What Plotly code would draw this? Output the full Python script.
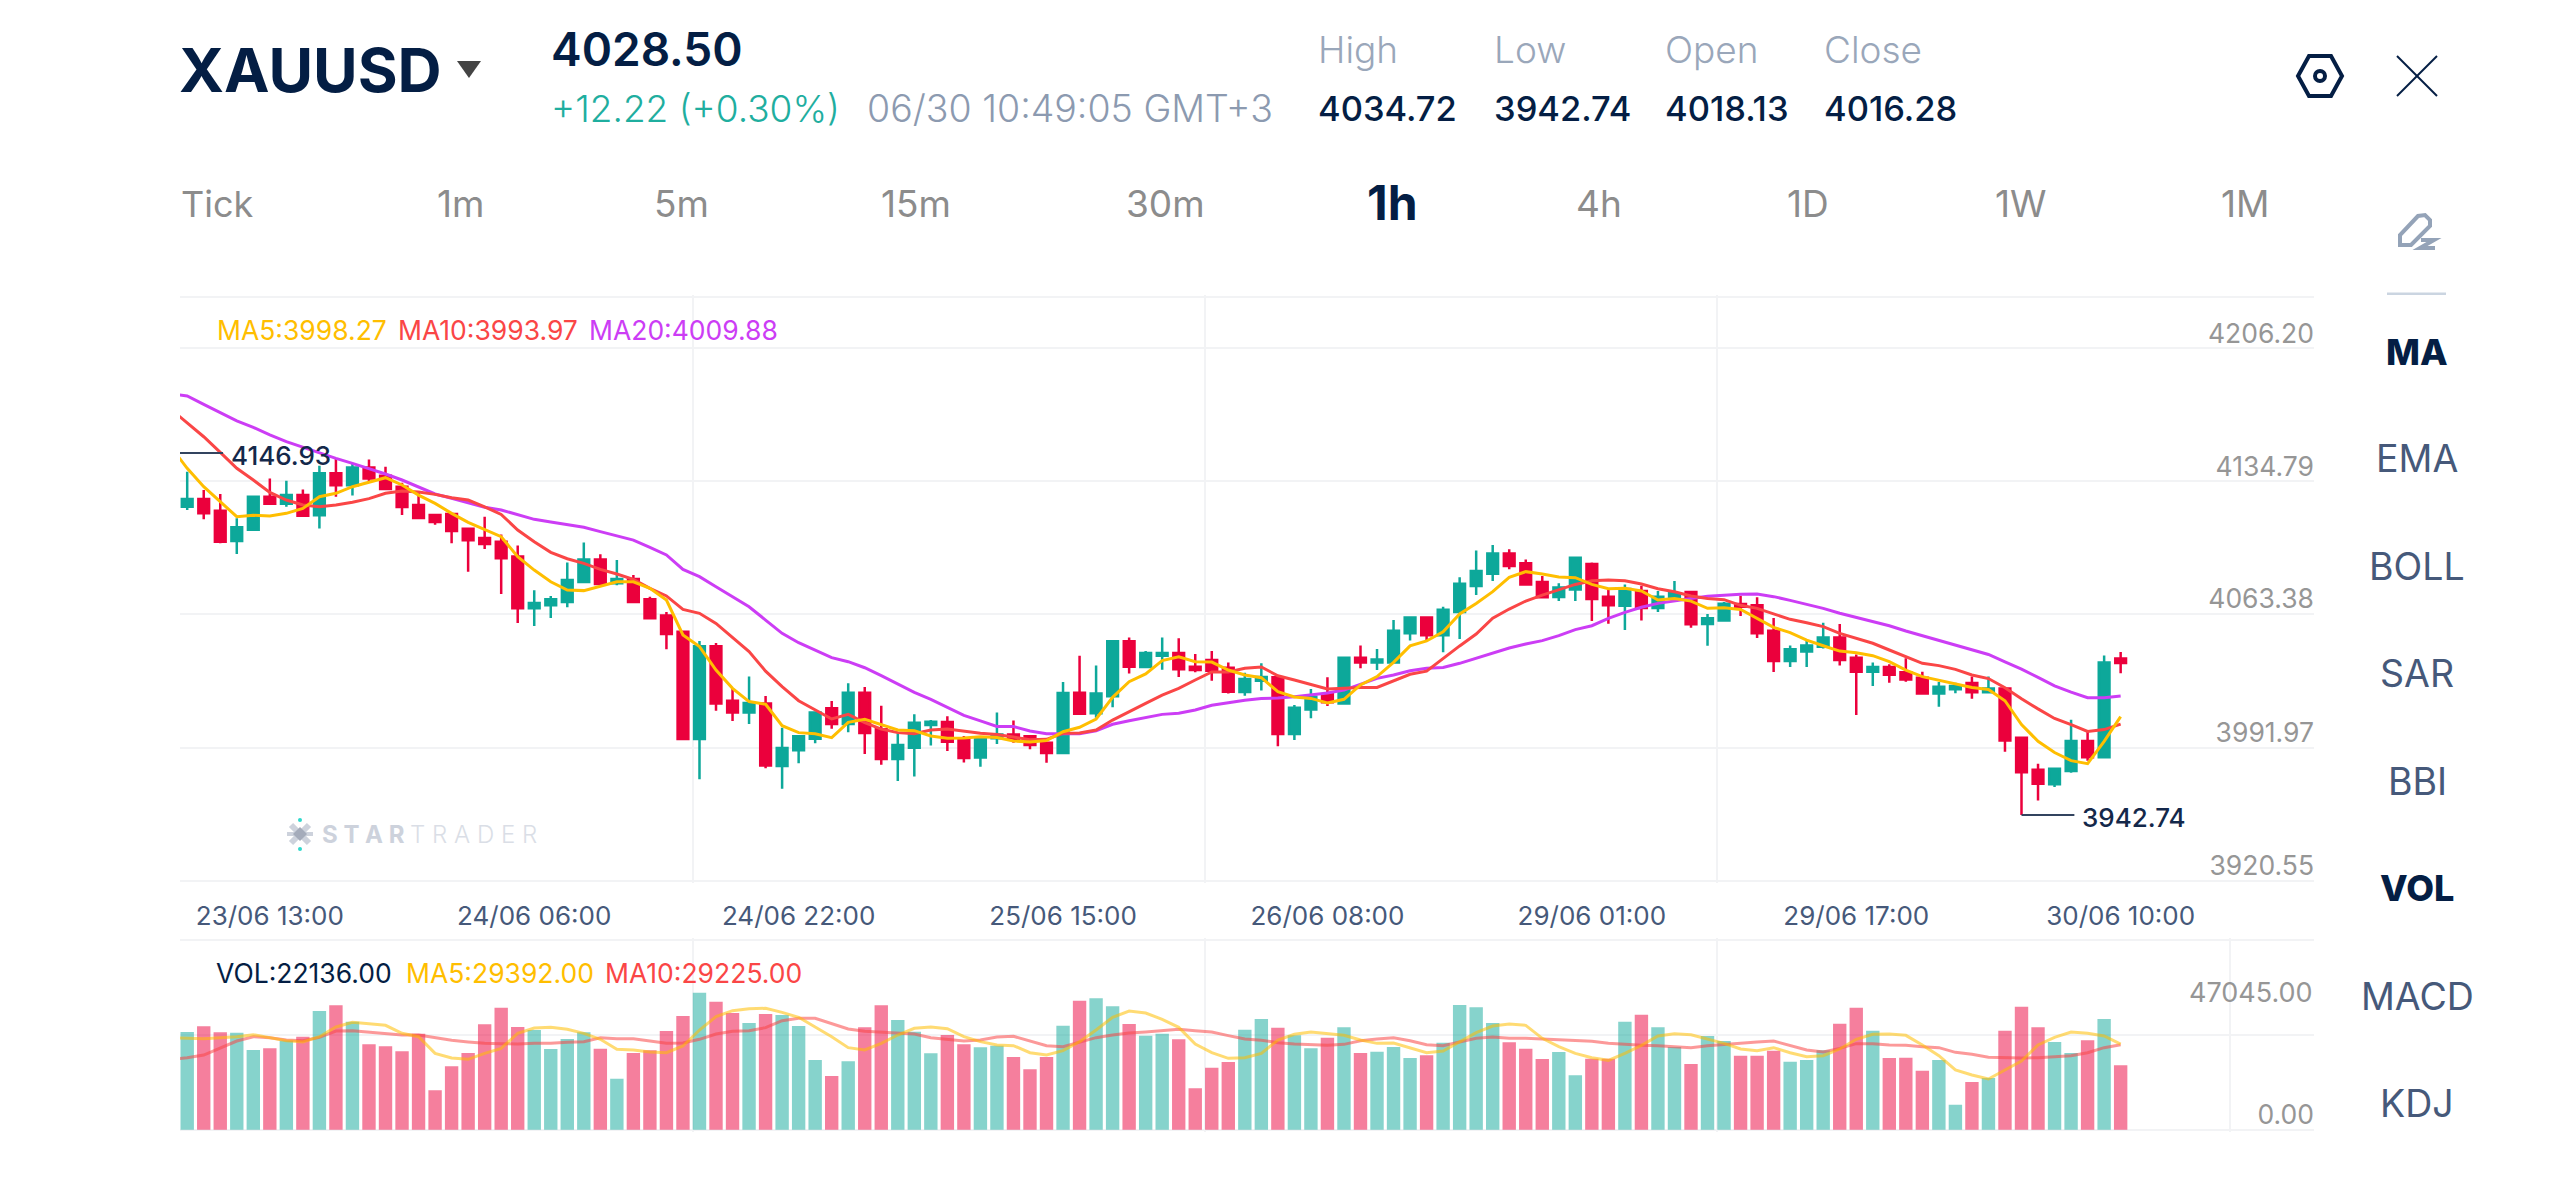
import plotly.graph_objects as go

# --- Hourly XAUUSD candles ---------------------------------------------------
OPEN = [4116.6,4121.0,4114.4,4097.3,4103.7,4122.3,4118.3,4123.2,4111.8,4135.5,4128.7,4138.8,4134.1,4127.9,4117.6,4112.0,4112.5,4104.2,4099.0,4096.9,
        4088.6,4059.3,4061.0,4062.9,4074.2,4086.9,4073.4,4075.9,4064.4,4055.2,4046.1,3985.6,4037.9,4007.2,4000.5,4005.7,3970.4,3979.2,3985.8,4002.9,
        3994.1,4011.7,3991.1,3974.3,3980.7,3993.5,3995.2,3986.0,3975.1,3986.0,3988.2,3987.1,3983.5,3977.7,4011.7,4000.1,4009.7,4040.7,4026.2,4032.6,
        4034.1,4026.4,4030.2,4025.8,4012.1,4018.5,4020.4,3988.4,4002.3,4010.8,4005.7,4031.5,4028.7,4028.8,4045.2,4054.2,4044.1,4057.2,4071.9,4078.8,
        4090.3,4084.7,4074.2,4065.7,4070.0,4084.3,4065.9,4060.8,4069.1,4059.5,4064.9,4068.5,4050.5,4052.5,4061.7,4061.0,4046.7,4029.6,4034.9,4037.7,
        4042.9,4031.5,4023.6,4026.2,4023.2,4020.2,4011.2,4013.6,4017.2,4012.0,4014.1,3986.3,3968.2,3960.1,3967.6,3984.5,3975.3,4031.0]
HIGH = [4136.4,4126.0,4123.8,4110.1,4122.3,4132.6,4131.3,4126.4,4139.8,4143.9,4141.1,4143.2,4139.2,4130.2,4125.1,4112.0,4112.5,4104.2,4111.0,4101.0,
        4094.8,4069.5,4066.3,4085.1,4096.5,4089.8,4086.6,4078.1,4065.9,4057.2,4046.7,4040.9,4039.8,4014.2,4020.8,4009.9,3992.0,3987.9,4001.0,4007.0,
        4017.0,4014.9,4004.4,3988.8,3999.5,3996.3,3998.4,3987.3,3986.9,4000.5,3996.1,3987.9,3984.1,4017.7,4032.6,4027.1,4041.1,4042.8,4035.2,4042.9,
        4042.4,4033.5,4035.2,4028.8,4023.0,4028.3,4020.8,4004.8,4013.8,4020.4,4031.7,4038.4,4036.4,4052.7,4054.6,4054.4,4060.2,4076.8,4092.0,4095.0,
        4092.6,4086.9,4077.5,4073.4,4087.9,4085.2,4069.6,4072.8,4072.1,4069.1,4074.7,4068.7,4056.1,4062.9,4066.4,4065.5,4053.9,4038.4,4040.9,4051.2,
        4050.5,4033.2,4028.7,4027.7,4031.1,4023.6,4017.7,4017.4,4020.8,4020.8,4014.5,3986.3,3971.7,3969.2,3996.4,3989.5,4032.7,4034.72]
LOW = [4114.8,4109.5,4096.0,4090.0,4102.9,4118.3,4116.6,4111.0,4104.4,4122.3,4122.9,4130.9,4126.6,4112.0,4110.3,4106.5,4096.0,4080.0,4092.8,4067.4,
       4051.0,4049.3,4053.9,4059.9,4074.2,4073.0,4072.3,4062.9,4053.7,4036.2,3985.6,3962.9,4001.6,3995.8,3994.1,3969.1,3957.6,3971.9,3983.2,3991.4,
       3989.4,3977.1,3971.1,3961.9,3964.5,3982.0,3978.8,3972.4,3970.0,3982.8,3983.5,3979.8,3972.2,3977.5,3999.5,3997.6,4003.5,4022.6,4025.5,4024.7,
       4020.6,4023.2,4018.5,4011.2,4010.0,4013.0,3981.5,3985.0,3997.3,4004.2,4005.5,4025.5,4024.5,4028.8,4041.1,4041.4,4034.5,4042.0,4066.8,4074.7,
       4081.3,4072.7,4065.5,4063.4,4063.4,4052.2,4050.6,4047.1,4052.5,4057.2,4064.9,4048.4,4038.2,4052.5,4055.0,4042.6,4023.4,4026.2,4026.2,4036.6,
       4027.0,3999.1,4015.5,4017.4,4017.9,4010.6,4003.8,4011.4,4008.3,4012.0,3978.4,3942.74,3950.9,3958.6,3966.5,3973.4,3975.3,4022.7]
CLOSE = [4121.0,4112.9,4096.9,4105.0,4122.3,4118.3,4123.2,4111.6,4135.5,4128.7,4138.8,4132.6,4126.6,4116.5,4110.3,4108.0,4102.9,4097.7,4095.6,4087.5,
         4059.3,4062.3,4064.4,4075.3,4086.9,4073.0,4075.9,4062.9,4053.7,4044.8,3985.6,4037.9,4005.7,4000.5,4005.9,3970.6,3980.5,3987.1,4000.5,3994.1,
         4011.7,3989.0,3974.3,3982.2,3994.8,3995.4,3984.1,3974.9,3986.0,3988.2,3985.6,3982.2,3977.7,4011.5,3999.9,4011.2,4040.7,4026.4,4034.1,4034.1,
         4024.9,4024.5,4024.1,4012.3,4019.4,4020.6,3988.4,4003.3,4009.5,4006.3,4031.5,4028.8,4030.5,4046.7,4054.2,4044.1,4058.5,4073.2,4080.4,4090.3,
         4083.2,4072.8,4065.5,4071.1,4087.9,4064.6,4061.0,4070.2,4059.5,4065.9,4067.8,4050.3,4053.7,4061.9,4060.2,4045.2,4029.6,4036.2,4038.4,4042.9,
         4030.2,4023.6,4026.2,4021.9,4019.1,4011.2,4015.1,4015.5,4012.0,4014.1,3984.7,3966.9,3960.3,3968.8,3984.5,3975.3,4028.7,4028.5]

# --- Price moving averages, the first entry belongs to the hour before the window
MA5 = [4150.5,4138.3,4127.9,4119.5,4111.0,4111.8,4111.4,4112.9,4115.7,4122.3,4124.2,4127.9,4130.4,4133.0,4128.9,4123.2,4118.5,4112.9,4107.8,4103.9,4099.7,
       4088.4,4080.9,4074.3,4069.6,4069.3,4071.9,4074.3,4074.3,4070.6,4064.0,4044.3,4037.7,4024.5,4014.2,4006.7,4005.2,
       3993.1,3989.2,3988.6,3986.4,3995.0,3996.7,3993.9,3990.7,3990.3,3987.3,3986.0,3986.2,3986.9,3986.4,3984.5,3983.9,3984.7,3989.7,3992.2,3996.9,
       4009.1,4017.9,4022.3,4029.8,4032.0,4029.2,4029.0,4024.5,4021.7,4020.2,4012.3,4009.3,4008.5,4005.9,4008.0,4016.1,
       4020.8,4028.8,4038.1,4040.9,4046.1,4056.1,4062.1,4068.7,4076.8,4080.0,4078.7,4077.0,4076.6,4072.8,4070.4,4070.6,4069.1,4064.0,4064.9,4063.4,4059.3,
       4059.7,4058.7,4053.7,4048.6,4045.6,4041.4,4038.2,4035.2,4034.3,4032.6,4029.2,4024.5,4020.8,4018.9,4016.6,4014.7,
       4013.5,4007.2,3993.7,3984.3,3978.0,3973.4,3971.7,3984.3,3998.27]
MA10 = [4171.7,4163.7,4156.1,4147.3,4138.3,4131.7,4124.7,4120.4,4117.6,4116.6,4117.6,4119.1,4121.2,4124.2,4125.5,4124.9,4123.6,4121.7,4120.4,4116.6,4112.3,
        4103.5,4096.9,4090.9,4087.3,4084.7,4081.3,4078.7,4075.7,4070.6,4066.3,4058.7,4056.5,4050.8,4042.9,4034.9,4023.9,
        4015.1,4007.2,4002.0,3996.9,3999.5,3994.8,3991.2,3989.2,3988.6,3990.7,3991.2,3990.1,3988.8,3988.2,3986.5,3985.2,3985.4,3988.8,3989.0,3990.7,
        3996.3,4001.2,4005.7,4010.4,4014.2,4018.9,4023.4,4023.4,4025.5,4026.2,4021.3,4018.9,4016.4,4013.8,4014.2,4014.7,
        4014.7,4018.5,4022.1,4023.9,4031.1,4038.1,4044.8,4053.7,4058.9,4063.4,4066.8,4069.6,4072.8,4074.9,4075.3,4074.9,4073.0,4070.4,4068.7,4066.3,4064.9,
        4064.2,4061.0,4059.3,4056.1,4053.1,4051.2,4049.0,4045.2,4042.4,4039.6,4035.8,4032.0,4028.3,4027.0,4024.9,4021.7,
        4019.7,4014.5,4008.3,4002.6,3997.2,3993.7,3989.9,3990.9,3993.97]
MA20 = [4180.2,4179.1,4174.4,4169.7,4165.0,4161.4,4157.1,4153.3,4150.1,4146.7,4143.9,4141.1,4138.3,4135.1,4131.7,4127.9,4123.8,4121.4,4118.9,4116.3,4114.8,
        4112.0,4109.5,4108.0,4106.7,4105.0,4102.6,4100.3,4097.8,4093.7,4089.4,4081.3,4077.2,4071.5,4065.9,4060.2,4052.7,
        4045.2,4039.9,4035.8,4031.5,4029.2,4025.8,4021.3,4016.6,4011.9,4008.0,4003.3,3998.9,3995.8,3992.7,3992.6,3990.1,3988.6,3988.6,3988.6,3990.3,
        3993.9,3995.9,3997.6,3999.5,4000.1,4002.0,4004.6,4006.1,4007.4,4008.4,4008.7,4009.5,4010.6,4011.5,4013.2,4016.4,
        4019.8,4021.7,4024.1,4025.5,4026.0,4028.3,4031.1,4033.9,4036.9,4039.2,4041.1,4043.9,4047.3,4049.5,4053.7,4057.0,4059.9,4062.1,4063.6,4064.9,4066.1,
        4066.8,4067.2,4067.4,4065.9,4063.8,4061.7,4059.3,4056.5,4054.2,4051.8,4049.5,4046.5,4043.9,4041.4,4038.6,4036.2,
        4033.3,4029.1,4025.0,4020.4,4015.6,4012.0,4008.9,4008.9,4009.88]

# --- Traded volume and its moving averages ------------------------------------
VOLUME = [33580,35520,33460,33350,27390,27960,30600,31970,40800,42740,37130,29340,28650,26930,33000,13530,21780,26360,36210,41940,
          35300,34260,27730,31170,33460,27850,17540,26360,27280,33920,39080,47045,44000,40110,36670,39760,39420,35640,23950,18450,
          23500,35180,42740,37700,33690,26250,32550,29340,28310,28880,24980,20750,24980,35750,44350,45150,42400,36330,32320,33000,
          31060,14220,21320,23270,34380,38050,35070,32430,27960,31630,35180,26360,26820,28420,24640,25560,29910,42860,42060,36670,
          30030,27850,24300,26700,18680,24410,24410,37130,39540,35180,28420,22580,32200,30480,25440,25440,27160,23380,23950,27280,
          36440,41940,34040,24640,24760,20290,23950,8600,16390,17770,34040,42280,35180,30140,26360,30710,38050,22136]
VOL_MA5 = [31630,31520,31290,31630,31970,32660,31740,30600,30140,31970,35300,36900,36440,35870,33120,31970,26250,24640,24180,26250,27960,
           33120,34950,35180,34490,33120,31060,27620,27390,26700,26470,28770,34260,38850,40910,41600,41710,40340,38620,35410,31970,28190,27390,
           29680,32550,34840,35300,34720,31970,30260,29110,28880,26470,25670,27160,30260,34260,38620,40800,40110,37930,35180,29450,26470,24530,24760,26250,
           30830,32780,33580,33120,32430,30830,29680,29800,28190,26470,27050,30260,33350,35640,36330,35870,31400,28540,
           26250,24760,23840,26250,28990,32200,33000,32660,31060,29680,27730,27160,28190,26470,25100,25440,27730,31060,32780,32890,32430,29110,25440,20520,18800,17420,
           20520,23610,29110,31740,33580,33120,32200,29392]
VOL_MA10 = [24180,24760,25670,27960,30480,31970,31630,30830,30600,31740,33920,34040,33460,33000,32550,32550,31630,30710,30140,29680,29570,
            29450,29680,29680,30030,30260,31630,31290,31290,30370,29680,29800,31060,32890,33810,34040,35070,37470,38270,38270,36560,34610,33810,
            33580,33230,32890,31630,30940,30480,30830,31860,32090,30480,28880,28540,30030,31630,32550,33230,33580,33920,34490,34040,33580,32320,31170,30710,
            29910,29450,29110,28990,29340,30600,31170,31630,30600,29220,28880,30260,31400,31860,31400,31400,31170,30710,
            30600,30370,29680,29220,28990,28880,28540,28190,28880,29340,29910,30140,30480,28990,27390,26700,27960,29570,29570,29110,28990,28540,28190,26590,25900,24870,
            24640,24640,24760,25210,25440,26470,28190,29225]

# --- Axis labels --------------------------------------------------------------
DATE_TICK_INDEX = [5, 21, 37, 53, 69, 85, 101, 117]
DATE_TICK_TEXT = ["23/06 13:00", "24/06 06:00", "24/06 22:00", "25/06 15:00",
                  "26/06 08:00", "29/06 01:00", "29/06 17:00", "30/06 10:00"]
VERTICAL_GRID_INDEX = [30.6, 61.6, 92.6, 123.6]
PRICE_GRID = [4234.92, 4205.98, 4130.96, 4056.11, 3980.70, 3905.51]
PRICE_GRID_TEXT = ["", "4206.20", "4134.79", "4063.38", "3991.97", "3920.55"]
PRICE_RANGE = [3904.38, 4236.05]
VOLUME_GRID = [0, 32550, 65200]
VOLUME_GRID_TEXT = ["0.00", "", ""]
VOLUME_RANGE = [-687, 65887]
VOLUME_TOP_LABEL = 47045.00
PERIOD_HIGH = 4146.93
PERIOD_LOW = 3942.74

assert all(len(s) == 118 for s in (OPEN, HIGH, LOW, CLOSE, VOLUME)), [len(s) for s in (OPEN, HIGH, LOW, CLOSE, VOLUME)]
assert all(len(s) == 119 for s in (MA5, MA10, MA20, VOL_MA5, VOL_MA10)), [len(s) for s in (MA5, MA10, MA20, VOL_MA5, VOL_MA10)]

W, H = 2560, 1177
FONT = "Inter"
NAVY = "#041E44"
TEAL = "#0DA89A"
RED = "#EB003C"
YELLOW = "#FFBE00"
CORAL = "#FA4646"
VIOLET = "#CC3DF5"
GRID = "#F2F3F5"
SLATE = "#46597A"
GREY = "#8C8C8C"
TICK_GREY = "#969696"


def px(x):
    return x / W


def py(y):
    return 1 - y / H


def label(x, y, text, size, color, anchor="left", weight=400):
    return dict(text=text, x=px(x), y=py(y), xref="paper", yref="paper", xanchor=anchor, yanchor="middle",
                showarrow=False, borderpad=0, font=dict(family=FONT, size=size, color=color, weight=weight))


def poly(points, close=True):
    d = "M" + " L".join(f"{px(a):.5f},{py(b):.5f}" for a, b in points)
    return d + (" Z" if close else "")


idx = list(range(len(OPEN)))
ma_idx = list(range(-1, len(OPEN)))
x_range = [-0.436, 128.7]

fig = go.Figure()
fig.add_trace(go.Candlestick(
    x=idx, open=OPEN, high=HIGH, low=LOW, close=CLOSE, xaxis="x", yaxis="y", whiskerwidth=0,
    increasing=dict(line=dict(color=TEAL, width=2.5), fillcolor=TEAL),
    decreasing=dict(line=dict(color=RED, width=2.5), fillcolor=RED), hoverinfo="skip"))
for series, colour in ((MA20, VIOLET), (MA10, CORAL), (MA5, YELLOW)):
    fig.add_trace(go.Scatter(x=ma_idx, y=series, mode="lines", line=dict(color=colour, width=3),
                             xaxis="x", yaxis="y", hoverinfo="skip"))
fig.add_trace(go.Scatter(x=[-0.44, 2.17], y=[PERIOD_HIGH, PERIOD_HIGH], mode="lines",
                         line=dict(color="#33445F", width=2), xaxis="x", yaxis="y", hoverinfo="skip"))
fig.add_trace(go.Scatter(x=[111, 114.2], y=[PERIOD_LOW, PERIOD_LOW], mode="lines",
                         line=dict(color="#33445F", width=2), xaxis="x", yaxis="y", hoverinfo="skip"))

bar_colours = ["rgba(13,168,154,0.5)" if c >= o else "rgba(235,0,60,0.5)" for o, c in zip(OPEN, CLOSE)]
fig.add_trace(go.Bar(x=idx, y=VOLUME, width=0.81, marker=dict(color=bar_colours, line=dict(width=0)),
                     xaxis="x2", yaxis="y2", hoverinfo="skip"))
fig.add_trace(go.Scatter(x=ma_idx, y=VOL_MA10, mode="lines", line=dict(color="rgba(250,70,70,0.55)", width=3),
                         xaxis="x2", yaxis="y2", hoverinfo="skip"))
fig.add_trace(go.Scatter(x=ma_idx, y=VOL_MA5, mode="lines", line=dict(color="rgba(255,190,0,0.55)", width=3),
                         xaxis="x2", yaxis="y2", hoverinfo="skip"))

vgrid = dict(tickmode="array", tickvals=VERTICAL_GRID_INDEX, showgrid=True, gridcolor=GRID, gridwidth=2, ticks="")

annotations = [
    # Header
    label(178, 70, "XAUUSD", 61, NAVY, weight=700),
    label(550, 49, "4028.50", 46, NAVY, weight=600),
    label(550, 109, "+12.22 (+0.30%)", 37, "#1FAE9F", weight=300),
    label(866, 109, "06/30 10:49:05 GMT+3", 37.5, "#8C9AB0", weight=300),
    label(1317, 50, "High", 37, "#9AA7BA", weight=300),
    label(1493, 50, "Low", 37, "#9AA7BA", weight=300),
    label(1664, 50, "Open", 37, "#9AA7BA", weight=300),
    label(1823, 50, "Close", 37, "#9AA7BA", weight=300),
    label(1317, 109, "4034.72", 34.5, NAVY, weight=500),
    label(1493, 109, "3942.74", 34.5, NAVY, weight=500),
    label(1664, 109, "4018.13", 34.5, NAVY, weight=500),
    label(1823, 109, "4016.28", 34.5, NAVY, weight=500),
    # Timeframe tabs
    label(180, 204, "Tick", 36, GREY),
    label(460, 204, "1m", 37, GREY, "center"),
    label(681, 204, "5m", 37, GREY, "center"),
    label(915.6, 204, "15m", 37, GREY, "center"),
    label(1165, 204, "30m", 37, GREY, "center"),
    label(1392, 203, "1h", 48, NAVY, "center", 700),
    label(1599, 204, "4h", 37, GREY, "center"),
    label(1808, 204, "1D", 37, GREY, "center"),
    label(2021, 204, "1W", 37, GREY, "center"),
    label(2245, 204, "1M", 37, GREY, "center"),
    # Indicator menu
    label(2417, 351.5, "MA", 36, NAVY, "center", 800),
    label(2417, 459, "EMA", 37.5, SLATE, "center"),
    label(2417, 566, "BOLL", 37.5, SLATE, "center"),
    label(2417, 673, "SAR", 37.5, SLATE, "center"),
    label(2417, 781, "BBI", 37.5, SLATE, "center"),
    label(2417, 888, "VOL", 36, NAVY, "center", 800),
    label(2417, 996, "MACD", 37.5, SLATE, "center"),
    label(2417, 1103, "KDJ", 37.5, SLATE, "center"),
    # Indicator readouts
    label(216, 330, "MA5:3998.27", 26.5, YELLOW),
    label(397, 330, "MA10:3993.97", 26.5, CORAL),
    label(588, 330, "MA20:4009.88", 26.5, VIOLET),
    label(215, 972.7, "VOL:22136.00", 26.5, NAVY),
    label(405, 972.7, "MA5:29392.00", 26.5, YELLOW),
    label(604, 972.7, "MA10:29225.00", 26.5, CORAL),
    # Watermark
    label(321, 834, "S T A R", 24, "#CDD2DC", weight=700),
    label(409, 834, "T R A D E R", 24, "#DADEE6", weight=300),
    # Upper label of the volume scale
    dict(text="47045.00", x=1, xref="x2 domain", y=VOLUME_TOP_LABEL, yref="y2", xanchor="right", yanchor="middle",
         showarrow=False, borderpad=0, font=dict(family=FONT, size=27, color=TICK_GREY)),
    # Period extremes
    dict(text="4146.93", x=2.17, y=PERIOD_HIGH, xref="x", yref="y", xanchor="left", yanchor="middle", xshift=7, yshift=-2,
         showarrow=False, borderpad=0, font=dict(family=FONT, size=26, color="#14284A", weight=500)),
    dict(text="3942.74", x=114.2, y=PERIOD_LOW, xref="x", yref="y", xanchor="left", yanchor="middle", xshift=7, yshift=-3,
         showarrow=False, borderpad=0, font=dict(family=FONT, size=26, color="#14284A", weight=500)),
]

shapes = [
    # Symbol dropdown caret
    dict(type="path", path=poly([(457, 61), (481, 61), (469, 78)]), xref="paper", yref="paper",
         fillcolor="#444444", line=dict(width=0)),
    # Settings hexagon with its centre ring
    dict(type="path", path=poly([(2298, 76), (2309, 56), (2331, 56), (2342, 76), (2331, 96), (2309, 96)]),
         xref="paper", yref="paper", line=dict(color=NAVY, width=4)),
    dict(type="circle", x0=px(2315), x1=px(2325), y0=py(71), y1=py(81), xref="paper", yref="paper",
         line=dict(color=NAVY, width=4)),
    # Close cross
    dict(type="path", path=poly([(2397, 56), (2437, 96)], False), xref="paper", yref="paper",
         line=dict(color=NAVY, width=2)),
    dict(type="path", path=poly([(2437, 56), (2397, 96)], False), xref="paper", yref="paper",
         line=dict(color=NAVY, width=2)),
    # Drawing tool pencil and the rule below it
    dict(type="path", path=poly([(2400, 245), (2400, 235), (2418, 216), (2425, 215), (2430, 220), (2430, 226), (2411, 245)]),
         xref="paper", yref="paper", line=dict(color="#94A3B8", width=4)),
    dict(type="path", path=poly([(2421, 240), (2434, 240), (2420, 248), (2435, 248)], False), xref="paper", yref="paper",
         line=dict(color="#94A3B8", width=4)),
    dict(type="line", x0=px(2387), x1=px(2446), y0=py(293.7), y1=py(293.7), xref="paper", yref="paper",
         line=dict(color="#CBD5E1", width=2.5)),
    # Watermark emblem
    dict(type="line", x0=px(291), x1=px(309), y0=py(825), y1=py(843), xref="paper", yref="paper",
         line=dict(color="#CDD2DC", width=6)),
    dict(type="line", x0=px(309), x1=px(291), y0=py(825), y1=py(843), xref="paper", yref="paper",
         line=dict(color="#CDD2DC", width=6)),
    dict(type="line", x0=px(287), x1=px(313), y0=py(834), y1=py(834), xref="paper", yref="paper",
         line=dict(color="#CDD2DC", width=4)),
    dict(type="path", path=poly([(300, 827), (307, 834), (300, 841), (293, 834)]), xref="paper", yref="paper",
         fillcolor="#A4ABBA", line=dict(width=0)),
    dict(type="circle", x0=px(298), x1=px(302), y0=py(818), y1=py(822), xref="paper", yref="paper",
         fillcolor="#2FD9CC", line=dict(width=0)),
    dict(type="circle", x0=px(298), x1=px(302), y0=py(847), y1=py(851), xref="paper", yref="paper",
         fillcolor="#2FD9CC", line=dict(width=0)),
]

fig.update_layout(
    width=W, height=H, margin=dict(l=0, r=0, t=0, b=0), autosize=False,
    paper_bgcolor="white", plot_bgcolor="white", showlegend=False, hovermode=False,
    boxgap=0.35, boxgroupgap=0, barmode="overlay",
    font=dict(family=FONT),
    xaxis=dict(domain=[px(180), px(2314)], anchor="y", range=x_range, rangeslider=dict(visible=False),
               tickmode="array", tickvals=DATE_TICK_INDEX, ticktext=DATE_TICK_TEXT, showgrid=False, zeroline=False,
               ticks="", showline=False, minor=vgrid, ticklabelstandoff=15,
               tickfont=dict(family=FONT, size=26, color=SLATE)),
    yaxis=dict(domain=[py(883), py(295)], anchor="x", side="right", range=PRICE_RANGE,
               tickmode="array", tickvals=PRICE_GRID, ticktext=PRICE_GRID_TEXT, showgrid=True, gridcolor=GRID,
               gridwidth=2, zeroline=False, ticks="", showline=False, ticklabelposition="inside",
               ticklabelshift=-15, ticklabelstandoff=-3, tickfont=dict(family=FONT, size=26.5, color=TICK_GREY)),
    xaxis2=dict(domain=[px(180), px(2314)], anchor="y2", range=x_range, showticklabels=False, showgrid=False,
                zeroline=False, ticks="", showline=False, tickmode="array", tickvals=[], minor=vgrid),
    yaxis2=dict(domain=[py(1131.7), py(938)], anchor="x2", side="right", range=VOLUME_RANGE,
                tickmode="array", tickvals=VOLUME_GRID, ticktext=VOLUME_GRID_TEXT, showgrid=True, gridcolor=GRID,
                gridwidth=2, zeroline=False, ticks="", showline=False, ticklabelposition="inside",
                ticklabelshift=-15, ticklabelstandoff=-3, tickfont=dict(family=FONT, size=26.5, color=TICK_GREY)),
    annotations=annotations, shapes=shapes,
)

fig.write_html("out.html", config={"displayModeBar": False})
